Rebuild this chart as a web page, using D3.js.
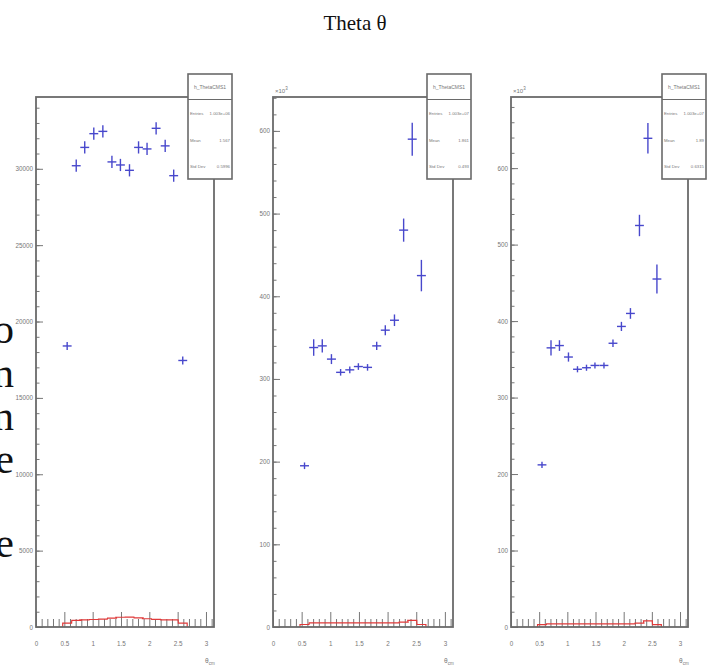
<!DOCTYPE html>
<html>
<head>
<meta charset="utf-8">
<script src="https://cdn.jsdelivr.net/npm/d3@7"></script>
<style>
  body { margin: 0; background: #fff; }
  svg { display: block; }
</style>
</head>
<body>
<svg id="chart" width="710" height="668"></svg>
<script>
// bin centres of the filled theta bins (20 bins over 0..pi)
const thetaBins = [0.55, 0.71, 0.86, 1.02, 1.18, 1.34, 1.49, 1.65, 1.81, 1.96, 2.12, 2.28, 2.43, 2.59];
const binWidth = 0.157;

// left pad
const countsA = [18400, 30200, 31400, 32300, 32450, 30450, 30250, 29900, 31400, 31300, 32650, 31500, 29550, 17450];
const errorsA = [260, 400, 400, 400, 400, 400, 400, 400, 400, 400, 400, 400, 400, 260];
const redA = [260, 430, 460, 490, 520, 580, 640, 650, 600, 540, 500, 470, 460, 260];

// middle pad (x10^3)
const countsB = [195, 338, 340, 324, 308, 311, 315, 314, 340, 359, 371, 480, 590, 425];
const errorsB = [4, 10, 8, 6, 4, 4, 4, 4, 5, 6, 7, 14, 20, 19];
const redB = [3, 5, 5, 5, 5, 5, 5, 5, 5, 5, 5, 6, 8, 3];

// right pad (x10^3)
const countsC = [212, 365, 368, 353, 337, 339, 342, 342, 371, 393, 410, 525, 639, 455];
const errorsC = [4, 10, 7, 6, 4, 4, 4, 4, 5, 6, 7, 14, 20, 19];
const redC = [3, 4, 4, 4, 4, 4, 4, 4, 4, 4, 4, 5, 8, 3];

const xTicks = [0, 0.5, 1, 1.5, 2, 2.5, 3];
const yTicksA = [0, 5000, 10000, 15000, 20000, 25000, 30000];
const yTicksBC = [0, 100, 200, 300, 400, 500, 600];

const statNames = ["Entries", "Mean", "Std Dev"];
const statsA = ["1.003e+06", "1.567", "0.5996"];
const statsB = ["1.003e+07", "1.861", "0.493"];
const statsC = ["1.003e+07", "1.89", "0.6315"];

const svg = d3.select('#chart');

// text from the page behind the canvas (only its right edge shows)
const sideLetters = ["o", "n", "n", "e", "e", "s"];
const sideBase = [343, 387, 430, 473, 557, 690];
svg.selectAll('text.side')
  .data(sideLetters)
  .enter()
  .append('text')
  .attr('class', 'side')
  .attr('x', 14)
  .attr('y', (d, i) => sideBase[i])
  .attr('text-anchor', 'end')
  .attr('font-family', 'Liberation Serif, serif')
  .attr('font-size', 42)
  .attr('fill', '#111')
  .text(d => d);

svg.append('text')
  .attr('x', 355)
  .attr('y', 30)
  .attr('text-anchor', 'middle')
  .attr('font-family', 'Liberation Serif, serif')
  .attr('font-size', 21)
  .attr('fill', '#111')
  .text('Theta θ');

const pads = [
  { left: 36, right: 214, ymax: 34700, counts: countsA, errors: errorsA, red: redA, yTicks: yTicksA, yMinor: 1000, exp: false, stats: statsA },
  { left: 273, right: 453, ymax: 641, counts: countsB, errors: errorsB, red: redB, yTicks: yTicksBC, yMinor: 20, exp: true, stats: statsB },
  { left: 511, right: 688, ymax: 693, counts: countsC, errors: errorsC, red: redC, yTicks: yTicksBC, yMinor: 20, exp: true, stats: statsC }
];
const frameTop = 97, frameBottom = 627;

pads.forEach(p => {
  const g = svg.append('g');
  const x = d3.scaleLinear().domain([0, Math.PI]).range([p.left, p.right]);
  const y = d3.scaleLinear().domain([0, p.ymax]).range([frameBottom, frameTop]);

  // minor x ticks
  const xMinor = d3.range(0, 3.15, 0.1).filter(v => Math.abs(v * 2 - Math.round(v * 2)) > 0.01);
  g.append('g')
    .attr('transform', `translate(0,${frameBottom})`)
    .call(d3.axisBottom(x).tickValues(xMinor).tickSize(-8).tickFormat(''))
    .call(a => a.select('.domain').remove());
  g.append('g')
    .attr('transform', `translate(0,${frameBottom})`)
    .call(d3.axisBottom(x).tickValues(xTicks).tickSize(-15).tickPadding(15).tickFormat(d3.format('')))
    .call(a => a.select('.domain').remove());

  // y ticks
  const yMinorVals = d3.range(0, p.ymax, p.yMinor);
  g.append('g')
    .attr('transform', `translate(${p.left},0)`)
    .call(d3.axisLeft(y).tickValues(yMinorVals).tickSize(-3.5).tickFormat(''))
    .call(a => a.select('.domain').remove());
  g.append('g')
    .attr('transform', `translate(${p.left},0)`)
    .call(d3.axisLeft(y).tickValues(p.yTicks).tickSize(-7).tickPadding(3).tickFormat(d3.format('')))
    .call(a => a.select('.domain').remove());

  g.selectAll('.tick line').attr('stroke', '#777').attr('stroke-width', 1);
  g.selectAll('.tick text')
    .attr('font-family', 'Liberation Sans, sans-serif')
    .attr('font-size', 6.3)
    .attr('fill', '#777');

  if (p.exp) {
    const t = g.append('text')
      .attr('x', p.left + 2)
      .attr('y', frameTop - 4)
      .attr('font-family', 'Liberation Sans, sans-serif')
      .attr('font-size', 6)
      .attr('fill', '#777');
    t.append('tspan').text('×10');
    t.append('tspan').attr('dy', -3).attr('font-size', 4.5).text('3');
  }

  // axis title
  const xt = g.append('text')
    .attr('x', p.right - 9)
    .attr('y', 663)
    .attr('font-family', 'Liberation Sans, sans-serif')
    .attr('font-size', 6.5)
    .attr('fill', '#777');
  xt.append('tspan').text('θ');
  xt.append('tspan').attr('dy', 2).attr('font-size', 4.5).text('cm');

  // red histogram outline
  const step = [];
  p.red.forEach((v, i) => {
    const lo = thetaBins[i] - binWidth / 2, hi = thetaBins[i] + binWidth / 2;
    if (i === 0) step.push([lo, 0]);
    step.push([lo, v], [hi, v]);
    if (i === p.red.length - 1) step.push([hi, 0]);
  });
  g.append('path')
    .attr('d', d3.line().x(d => x(d[0])).y(d => y(d[1]))(step))
    .attr('fill', 'none')
    .attr('stroke', '#e03a3a')
    .attr('stroke-width', 1.2);

  // blue points with error bars
  const pts = g.selectAll('g.pt')
    .data(p.counts)
    .enter()
    .append('g')
    .attr('class', 'pt');
  pts.append('line')
    .attr('x1', (d, i) => x(thetaBins[i] - binWidth / 2))
    .attr('x2', (d, i) => x(thetaBins[i] + binWidth / 2))
    .attr('y1', d => y(d))
    .attr('y2', d => y(d));
  pts.append('line')
    .attr('x1', (d, i) => x(thetaBins[i]))
    .attr('x2', (d, i) => x(thetaBins[i]))
    .attr('y1', (d, i) => y(d - p.errors[i]))
    .attr('y2', (d, i) => y(d + p.errors[i]));
  pts.selectAll('line').attr('stroke', '#4848cc').attr('stroke-width', 1.4);

  // frame
  g.append('rect')
    .attr('x', p.left)
    .attr('y', frameTop)
    .attr('width', p.right - p.left)
    .attr('height', frameBottom - frameTop)
    .attr('fill', 'none')
    .attr('stroke', '#6a6a6a')
    .attr('stroke-width', 1.8);

  // stats box
  const bx = p.right - 26, bw = 44, by = 74, bh = 105;
  g.append('rect')
    .attr('x', bx).attr('y', by).attr('width', bw).attr('height', bh)
    .attr('fill', '#fff').attr('stroke', '#6a6a6a').attr('stroke-width', 1.6);
  g.append('line')
    .attr('x1', bx).attr('x2', bx + bw).attr('y1', 99.5).attr('y2', 99.5)
    .attr('stroke', '#6a6a6a').attr('stroke-width', 1.2);
  g.append('text')
    .attr('x', bx + bw / 2).attr('y', 89)
    .attr('text-anchor', 'middle')
    .attr('font-family', 'Liberation Sans, sans-serif')
    .attr('font-size', 5).attr('fill', '#777')
    .text('h_ThetaCMS1');
  const rowsY = [115, 142, 168];
  statNames.forEach((n, i) => {
    g.append('text')
      .attr('x', bx + 2).attr('y', rowsY[i])
      .attr('font-family', 'Liberation Sans, sans-serif')
      .attr('font-size', 4.3).attr('fill', '#777')
      .text(n);
    g.append('text')
      .attr('x', bx + bw - 2).attr('y', rowsY[i])
      .attr('text-anchor', 'end')
      .attr('font-family', 'Liberation Sans, sans-serif')
      .attr('font-size', 4.3).attr('fill', '#777')
      .text(p.stats[i]);
  });
});
</script>
</body>
</html>
